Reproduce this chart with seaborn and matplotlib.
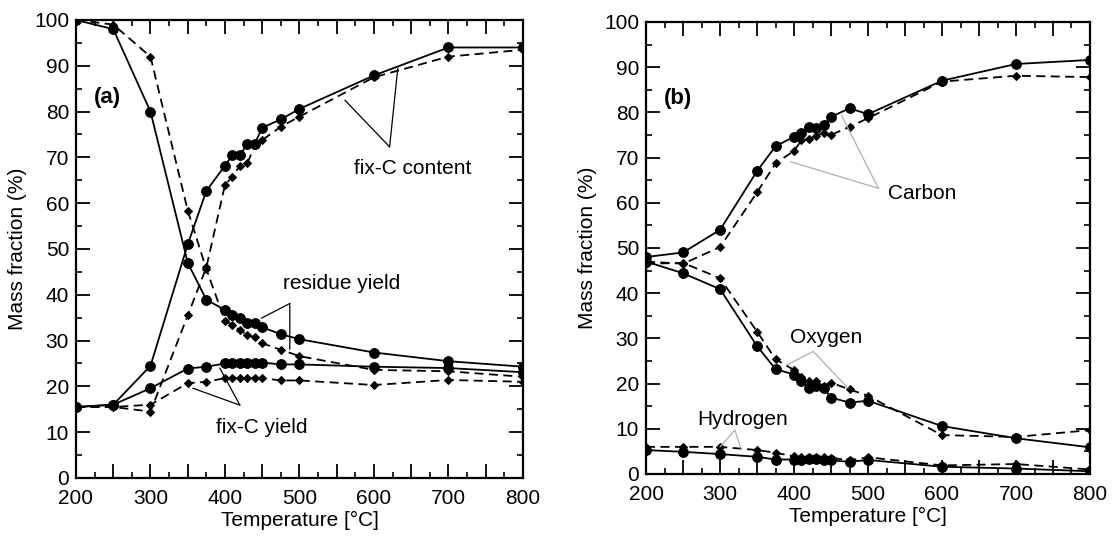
import matplotlib
matplotlib.use('Agg')
import matplotlib.pyplot as plt
import seaborn as sns
import pandas as pd
from matplotlib.ticker import MultipleLocator, FuncFormatter

# temperatures (deg C), same for both panels
temps = [200, 250, 300, 350, 375, 400, 410, 420, 430, 440, 450, 475, 500, 600, 700, 800]

# panel (a)
content_solid = [15.5, 16, 24.5, 51, 62.7, 68.2, 70.5, 70.5, 72.9, 73, 76.5, 78.3, 80.6, 87.9, 94, 94]
content_dashed = [15.5, 15.5, 14.5, 35.5, 46, 64, 65.8, 68.2, 68.7, 72.6, 73.8, 76.7, 78.9, 87.5, 92, 93.5]
residue_solid = [100, 98, 80, 47, 38.9, 36.7, 35.6, 34.9, 33.9, 33.9, 32.9, 31.4, 30.3, 27.4, 25.5, 24.3]
residue_dashed = [100, 99, 92, 58.4, 45.6, 34.3, 33.4, 32.3, 31.2, 30.7, 29.4, 28, 26.6, 23.6, 23.3, 22.1]
yield_solid = [15.5, 16, 19.6, 23.9, 24.3, 25, 25.1, 25, 25, 25, 25.2, 24.8, 24.8, 24.3, 24, 23.1]
yield_dashed = [15.5, 15.5, 16, 20.7, 21, 21.8, 21.8, 21.8, 21.8, 21.8, 21.8, 21.3, 21.3, 20.3, 21.4, 21]

# panel (b)
carbon_solid = [48, 49, 54, 67, 72.5, 74.6, 75.5, 76.8, 76.6, 77.2, 79, 80.9, 79.6, 87, 90.7, 91.6]
carbon_dashed = [47, 46.5, 50.2, 62.3, 68.7, 71.5, 73.8, 74.1, 74.8, 75.5, 75, 76.8, 78.7, 86.8, 88.1, 87.8]
oxygen_solid = [47, 44.4, 40.9, 28.3, 23.2, 22, 20.5, 19, 19.5, 19, 16.9, 15.8, 16.2, 10.6, 7.9, 5.9]
oxygen_dashed = [46.5, 46.7, 43.3, 31.5, 25.4, 23, 21.5, 20.5, 20.5, 19.5, 20.2, 18.7, 17.3, 8.6, 8.2, 9.7]
hydrogen_solid = [5.3, 4.9, 4.4, 3.8, 3.2, 3.2, 3.2, 3.3, 3.3, 3.2, 3, 2.7, 3.1, 1.6, 1.2, 0.6]
hydrogen_dashed = [6, 6, 6, 5.3, 4.7, 3.9, 3.8, 3.8, 3.8, 3.8, 3.6, 3, 3.7, 1.9, 2.2, 1]

# annotation text and leader lines: (label, text pos, apex, [ends])
notes_a = [
    ('fix-C content', (652, 67.5), (621, 72.3), [(561, 82.5), (632, 89.5)]),
    ('residue yield', (557, 42.5), (487, 38.1), [(449, 34.9), (487, 28.1)]),
    ('fix-C yield', (450, 11), (420, 15.9), [(357, 19.6), (393, 24)]),
]
notes_b = [
    ('Carbon', (573, 62), (514, 63.2), [(395, 69.1), (464, 79.4)]),
    ('Oxygen', (443, 30.3), (426, 27.1), [(390, 24.1), (473, 19)]),
    ('Hydrogen', (330, 12), (320, 9.7), [(300, 6), (329, 5.3)]),
]

sns.set_style('ticks')
plt.rcParams['font.family'] = ['Liberation Sans', 'DejaVu Sans']
plt.rcParams['xtick.direction'] = 'in'
plt.rcParams['ytick.direction'] = 'in'
for k in ['text.color', 'axes.labelcolor', 'xtick.color', 'ytick.color', 'axes.edgecolor']:
    plt.rcParams[k] = 'black'

fig = plt.figure(figsize=(11.16, 5.42), dpi=100)
ax_a = fig.add_axes([0.0681, 0.1181, 0.4005, 0.845])
ax_b = fig.add_axes([0.5789, 0.1255, 0.3978, 0.834])


def draw(ax, solid, dashed):
    for s in solid:
        sns.lineplot(x=temps, y=s, ax=ax, color='black', lw=1.3, marker='o',
                     markersize=7, markeredgecolor='black', sort=False)
    for s in dashed:
        sns.lineplot(x=temps, y=s, ax=ax, color='black', lw=1.3, marker='D',
                     markersize=4.5, markeredgecolor='black', sort=False,
                     dashes=False, linestyle=(0, (5, 3)))


def style(ax, tag, notes, line_color):
    ax.set_xlim(200, 800)
    ax.set_ylim(0, 100)
    ax.xaxis.set_major_locator(MultipleLocator(50))
    ax.xaxis.set_minor_locator(MultipleLocator(25))
    ax.xaxis.set_major_formatter(FuncFormatter(lambda v, p: f'{int(v)}' if v % 100 == 0 else ''))
    ax.yaxis.set_major_locator(MultipleLocator(10))
    ax.yaxis.set_minor_locator(MultipleLocator(5))
    ax.tick_params(which='major', length=10, width=1.3, labelsize=15,
                   top=True, right=True)
    ax.tick_params(axis='x', which='major', pad=8)
    ax.tick_params(axis='y', which='major', pad=5)
    ax.tick_params(which='minor', length=4, width=1.2, top=True, right=True)
    for sp in ax.spines.values():
        sp.set_linewidth(1.6)
        sp.set_visible(True)
    ax.set_xlabel('Temperature [°C]', fontsize=15, labelpad=2)
    ax.set_ylabel('Mass fraction (%)', fontsize=15, labelpad=5)
    ax.text(0.04, 0.83, tag, transform=ax.transAxes, fontsize=16,
            fontweight='bold', ha='left', va='center')
    for label, tpos, apex, ends in notes:
        ax.text(tpos[0], tpos[1], label, fontsize=15, ha='center', va='center')
        for e in ends:
            ax.annotate('', xy=e, xytext=apex,
                        arrowprops=dict(arrowstyle='-', color=line_color, lw=0.9,
                                        shrinkA=0, shrinkB=0))


draw(ax_a, [content_solid, residue_solid, yield_solid],
     [content_dashed, residue_dashed, yield_dashed])
style(ax_a, '(a)', notes_a, 'black')

draw(ax_b, [carbon_solid, oxygen_solid, hydrogen_solid],
     [carbon_dashed, oxygen_dashed, hydrogen_dashed])
style(ax_b, '(b)', notes_b, '#b8a8b8')

fig.savefig('out.png', dpi=100)
